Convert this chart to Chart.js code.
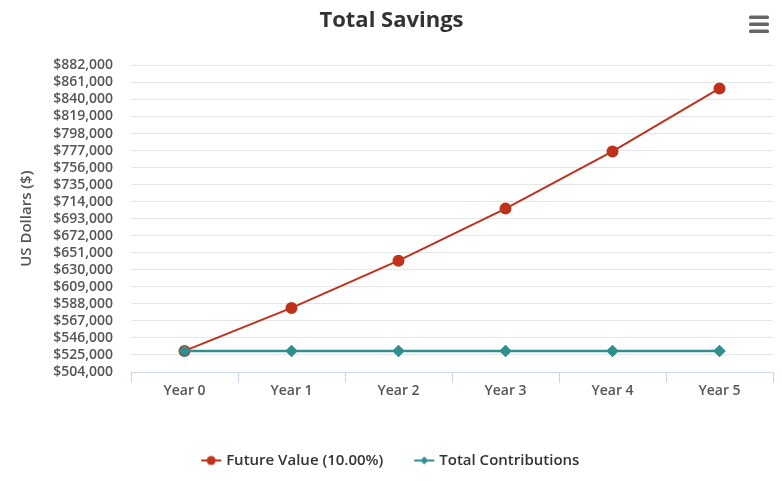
<!DOCTYPE html>
<html>
<head>
<meta charset="utf-8">
<script src="https://cdn.jsdelivr.net/npm/chart.js@4"></script>
<style>
  html, body { margin: 0; padding: 0; background: #fff; }
  #wrap { width: 782px; height: 481px; }
</style>
</head>
<body>
<div id="wrap"><canvas id="grafico" width="782" height="481"></canvas></div>
<script>
const years = ['Year 0', 'Year 1', 'Year 2', 'Year 3', 'Year 4', 'Year 5'];
const futureValue = [530000, 583000, 641300, 705430, 775973, 853570];
const totalContributions = [530000, 530000, 530000, 530000, 530000, 530000];
const yMin = 504000, yMax = 882000, yStep = 21000;

const RED = '#c0311b';
const TEAL = '#2f8f8f';
const FONT = '"Open Sans", "Noto Sans", sans-serif';

// simbolo de leyenda estilo linea + marcador
function legendSymbol(color, shape) {
    const c = document.createElement('canvas');
    c.width = 22; c.height = 12;
    const g = c.getContext('2d');
    g.strokeStyle = color; g.lineWidth = 2;
    g.beginPath(); g.moveTo(1, 6); g.lineTo(21, 6); g.stroke();
    g.fillStyle = color;
    g.beginPath();
    if (shape === 'circle') g.arc(11, 6, 4.5, 0, Math.PI * 2);
    else { g.moveTo(11, 2); g.lineTo(15, 6); g.lineTo(11, 10); g.lineTo(7, 6); g.closePath(); }
    g.fill();
    return c;
}

const menuIcon = {
    id: 'menuIcon',
    afterDraw(chart) {
        const ctx = chart.ctx;
        ctx.save();
        ctx.fillStyle = '#666';
        [17, 24, 31].forEach(y => {
            ctx.beginPath();
            ctx.roundRect(749, y - 1.5, 20, 3.5, 1.5);
            ctx.fill();
        });
        ctx.restore();
    }
};

new Chart(document.getElementById('grafico'), {
    type: 'line',
    data: {
        labels: years,
        datasets: [
            {
                label: 'Future Value (10.00%)',
                data: futureValue,
                borderColor: RED, backgroundColor: RED,
                borderWidth: 2, pointStyle: 'circle', pointRadius: 5, pointHoverRadius: 6,
                order: 2
            },
            {
                label: 'Total Contributions',
                data: totalContributions,
                borderColor: TEAL, backgroundColor: TEAL,
                borderWidth: 2.5, pointStyle: 'rectRot', pointRadius: 4.5, pointHoverRadius: 5,
                order: 1
            }
        ]
    },
    options: {
        responsive: false,
        animation: false,
        layout: { padding: { left: 10, right: 9, top: 4, bottom: 3 } },
        plugins: {
            title: {
                display: true, text: 'Total Savings', color: '#333',
                font: { family: FONT, size: 22, weight: 'bold' },
                padding: { top: 4, bottom: 31 }
            },
            legend: {
                position: 'bottom',
                labels: {
                    color: '#333', font: { family: FONT, size: 15, weight: '600' },
                    usePointStyle: true, padding: 14,
                    generateLabels: chart => chart.data.datasets.map((ds, i) => ({
                        text: ds.label + (i === 0 ? '     ' : ''),
                        fontColor: '#333',
                        pointStyle: legendSymbol(ds.borderColor, i === 0 ? 'circle' : 'diamond'),
                        strokeStyle: ds.borderColor, fillStyle: ds.borderColor,
                        lineWidth: 0, datasetIndex: i, hidden: false
                    }))
                }
            },
            tooltip: { enabled: false }
        },
        scales: {
            x: {
                offset: true,
                afterFit: s => { s.height = 67; },
                grid: { offset: true, drawOnChartArea: false, drawTicks: true, tickLength: 11, color: '#ccd6eb' },
                border: { display: true, color: '#ccd6eb', width: 1 },
                ticks: { color: '#555', font: { family: FONT, size: 14, weight: '600' }, padding: 0 }
            },
            y: {
                min: yMin, max: yMax,
                afterFit: s => { s.width = 121; },
                grid: { color: '#e6e6e6', drawTicks: false },
                border: { display: false },
                title: {
                    display: true, text: 'US Dollars ($)', color: '#555',
                    font: { family: FONT, size: 15, weight: '600' }, padding: { top: 8, bottom: 4 }
                },
                ticks: {
                    stepSize: yStep, color: '#555', padding: 18, autoSkip: false,
                    font: { family: FONT, size: 14, weight: '600' },
                    callback: v => '$' + v.toLocaleString('en-US')
                }
            }
        }
    },
    plugins: [menuIcon]
});
</script>
</body>
</html>
